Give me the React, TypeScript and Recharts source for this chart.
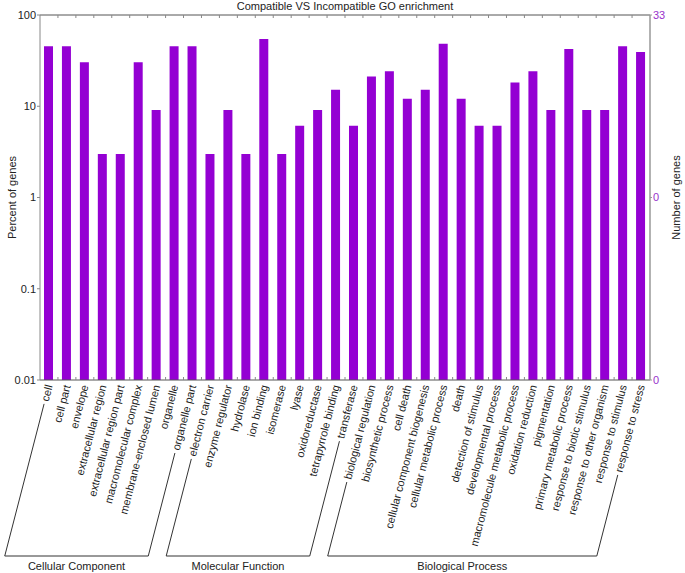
import React from "react";
import { ComposedChart, Bar, Line, XAxis, YAxis } from "recharts";

const terms = [
    "cell", "cell part", "envelope", "extracellular region", "extracellular region part",
    "macromolecular complex", "membrane-enclosed lumen", "organelle", "organelle part",
    "electron carrier", "enzyme regulator", "hydrolase", "ion binding", "isomerase", "lyase",
    "oxidoreductase", "tetrapyrrole binding", "transferase",
    "biological regulation", "biosynthetic process", "cell death", "cellular component biogenesis",
    "cellular metabolic process", "death", "detection of stimulus", "developmental process",
    "macromolecule metabolic process", "oxidation reduction", "pigmentation",
    "primary metabolic process", "response to biotic stimulus", "response to other organism",
    "response to stimulus", "response to stress",
];

const ontology = [
    "Cellular Component", "Cellular Component", "Cellular Component", "Cellular Component", "Cellular Component",
    "Cellular Component", "Cellular Component", "Cellular Component", "Cellular Component",
    "Molecular Function", "Molecular Function", "Molecular Function", "Molecular Function", "Molecular Function",
    "Molecular Function", "Molecular Function", "Molecular Function", "Molecular Function",
    "Biological Process", "Biological Process", "Biological Process", "Biological Process",
    "Biological Process", "Biological Process", "Biological Process", "Biological Process",
    "Biological Process", "Biological Process", "Biological Process", "Biological Process",
    "Biological Process", "Biological Process", "Biological Process", "Biological Process",
];

const percentOfGenes = [
    45.5, 45.5, 30.3, 3.0, 3.0, 30.3, 9.1, 45.5, 45.5,
    3.0, 9.1, 3.0, 54.5, 3.0, 6.1, 9.1, 15.2, 6.1,
    21.2, 24.2, 12.1, 15.2, 48.5, 12.1, 6.1, 6.1, 18.2, 24.2, 9.1, 42.4, 9.1, 9.1, 45.5, 39.4,
];

const percentTicks = [0.01, 0.1, 1, 10, 100];
const geneTicks = [0.01, 1, 100];
const TOTAL_GENES = 33;

const data = terms.map((name, i) => ({ name, group: ontology[i], pct: percentOfGenes[i] }));

const FONT = '"Liberation Sans", Arial, Helvetica, sans-serif';
const PURPLE = "#9400d3";
const FRAME = "#888";
const ANGLE = 75.5;
const RAD = (ANGLE * Math.PI) / 180;
const BRACKET_DROP = 176;

let ctx: CanvasRenderingContext2D | null = null;
function textWidth(s: string) {
    if (!ctx) ctx = document.createElement("canvas").getContext("2d");
    if (!ctx) return s.length * 5.6;
    ctx.font = `11px ${FONT}`;
    return ctx.measureText(s).width;
}

// remembers where each group's bracket starts while ticks render in order
const groupStart: Record<string, number> = {};

const TermTick = (props: any) => {
    const { x, y, payload, index } = props;
    const half = payload?.offset ?? 9;
    const term = data[index];
    if (!term) return null;
    const isFirst = index === 0 || data[index - 1].group !== term.group;
    const isLast = index === data.length - 1 || data[index + 1].group !== term.group;
    const cos = Math.cos(RAD);
    const sin = Math.sin(RAD);
    const ax = x;
    const ay = y + 5;
    const baseY = y + BRACKET_DROP;
    const reach = (baseY - ay) / sin;
    const footX = ax - reach * cos;
    const startD = textWidth(term.name) + 3;
    if (isFirst) groupStart[term.group] = footX;
    const from = groupStart[term.group];
    return (
        <g>
            {index < data.length - 1 && (
                <line x1={x + half} x2={x + half} y1={y} y2={y - 3} stroke={FRAME} />
            )}
            <text
                transform={`translate(${ax},${ay}) rotate(${-ANGLE})`}
                textAnchor="end"
                dy="0.35em"
                fontSize={11}
                fontFamily={FONT}
                fill="#222"
            >
                {term.name}
            </text>
            {(isFirst || isLast) && (
                <line x1={ax - startD * cos} y1={ay + startD * sin} x2={footX} y2={baseY} stroke="#333" />
            )}
            {isLast && (
                <>
                    <line x1={from} x2={footX} y1={baseY} y2={baseY} stroke="#333" />
                    <text
                        x={(from + footX) / 2}
                        y={baseY + 14}
                        textAnchor="middle"
                        fontSize={11}
                        fontFamily={FONT}
                        fill="#222"
                    >
                        {term.group}
                    </text>
                </>
            )}
        </g>
    );
};

const TopTick = (props: any) => {
    const { x, y, payload, index } = props;
    const half = payload?.offset ?? 9;
    if (index >= data.length - 1) return null;
    return <line x1={x + half} x2={x + half} y1={y} y2={y + 3} stroke={FRAME} />;
};

const App: React.FC = () => {
    return (
        <div style={{ position: "relative", width: 685, height: 573, fontFamily: FONT }}>
            <style>{"body{margin:0}"}</style>
            <div
                style={{
                    position: "absolute",
                    top: -1,
                    left: 0,
                    width: 690,
                    textAlign: "center",
                    fontSize: 11,
                    lineHeight: "14px",
                    color: "#222",
                }}
            >
                Compatible VS Incompatible GO enrichment
            </div>
            <ComposedChart width={685} height={573} data={data} margin={{ top: 14, right: 0, bottom: 0, left: 0 }}>
                <XAxis
                    xAxisId="top"
                    orientation="top"
                    dataKey="name"
                    height={1}
                    interval={0}
                    tickSize={0}
                    tickMargin={0}
                    tickLine={false}
                    tick={<TopTick />}
                    axisLine={{ stroke: "#555" }}
                />
                <XAxis
                    xAxisId="bottom"
                    dataKey="name"
                    height={193}
                    interval={0}
                    tickSize={0}
                    tickMargin={0}
                    tickLine={false}
                    tick={<TermTick />}
                    axisLine={{ stroke: "#555" }}
                />
                <YAxis
                    yAxisId="left"
                    scale="log"
                    domain={[0.01, 100]}
                    allowDataOverflow
                    ticks={percentTicks}
                    width={40}
                    tickSize={3}
                    tickMargin={1}
                    tick={{ fontSize: 11, fill: "#222", fontFamily: FONT }}
                    axisLine={{ stroke: FRAME }}
                    tickLine={{ stroke: FRAME }}
                    label={({ viewBox }: any) => {
                        const cx = viewBox.x + 12;
                        const cy = viewBox.y + viewBox.height / 2;
                        return (
                            <text
                                x={cx}
                                y={cy}
                                transform={`rotate(-90 ${cx} ${cy})`}
                                textAnchor="middle"
                                dominantBaseline="central"
                                fontSize={11}
                                fontFamily={FONT}
                                fill="#222"
                            >
                                Percent of genes
                            </text>
                        );
                    }}
                />
                <YAxis
                    yAxisId="right"
                    orientation="right"
                    scale="log"
                    domain={[0.01, 100]}
                    allowDataOverflow
                    ticks={geneTicks}
                    tickFormatter={(v: number) => String(Math.round((v * TOTAL_GENES) / 100))}
                    width={35}
                    tickSize={2}
                    tickMargin={1}
                    tick={{ fontSize: 11, fill: "#9932cc", fontFamily: FONT }}
                    axisLine={{ stroke: "#999", strokeWidth: 1.5 }}
                    tickLine={{ stroke: "#999" }}
                    label={({ viewBox }: any) => {
                        const cx = viewBox.x + 26;
                        const cy = viewBox.y + viewBox.height / 2;
                        return (
                            <text
                                x={cx}
                                y={cy}
                                transform={`rotate(-90 ${cx} ${cy})`}
                                textAnchor="middle"
                                dominantBaseline="central"
                                fontSize={11}
                                fontFamily={FONT}
                                fill="#222"
                            >
                                Number of genes
                            </text>
                        );
                    }}
                />
                <Bar
                    xAxisId="bottom"
                    yAxisId="left"
                    dataKey="pct"
                    fill={PURPLE}
                    barSize={9}
                    isAnimationActive={false}
                />
                <Line
                    xAxisId="top"
                    yAxisId="right"
                    dataKey="pct"
                    stroke="none"
                    dot={false}
                    activeDot={false}
                    legendType="none"
                    isAnimationActive={false}
                />
            </ComposedChart>
        </div>
    );
};

export default App;
